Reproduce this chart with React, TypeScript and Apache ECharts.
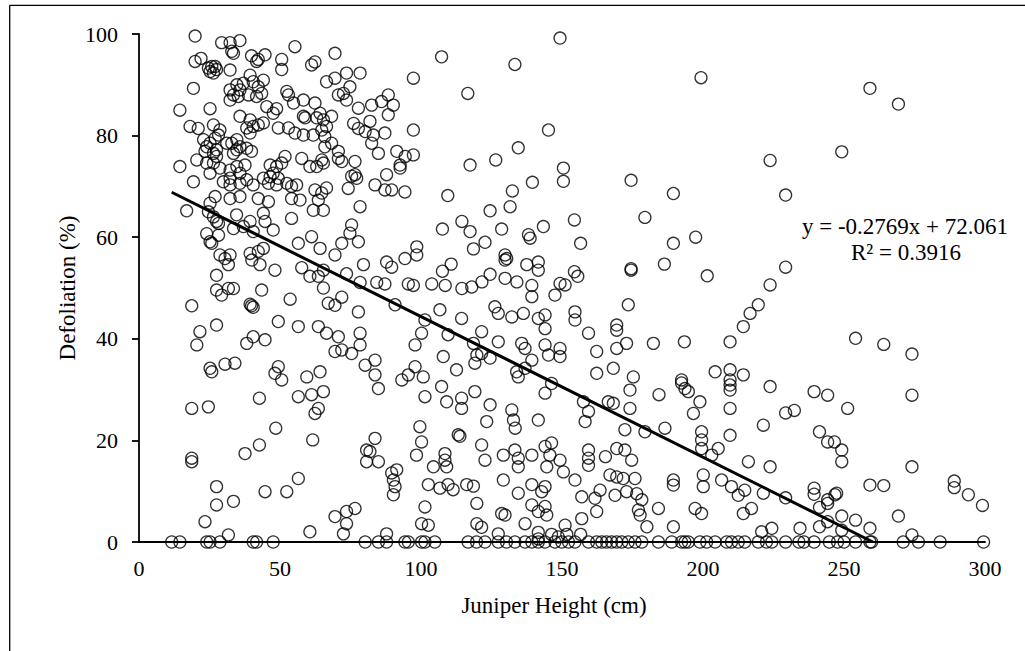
import React, { useEffect, useRef } from "react";
import * as echarts from "echarts";

// Juniper height (cm) vs defoliation (%), grouped by region
const pointsUpperLeft: number[][] = [
  [19.9,99.6],[29.3,98.3],[32.3,98.3],[35.8,98.7],[32.9,96.6],[33.5,96.2],
  [19.9,94.6],[22,95.2],[24.6,93.3],[25.8,93.6],[27,93.6],[27.5,93],[26.4,92.3],[25.2,92.6],
  [32.3,92.9],[39.9,95.7],[42.3,95],[44.7,95.9],[41.7,94.6],[50.6,95],[50.6,93],[55.3,97.5],
  [61.2,93.9],[62.4,94.5],[66.5,90.6],
  [39.4,91.9],[40.5,90.6],[44.1,90.9],[42.3,89.6],[43.5,88.3],[41.7,87.7],[38.8,88],[37,90.3],[35.8,89],
  [32.3,89],[34.7,90],[33.5,88],[35.2,87.7],[32.3,87],[19.3,89.3],[25.2,85.3],[14.5,85],
  [52.4,88.7],[53,88],[54.8,86.4],[58.3,87],[62.4,86.4],[48.8,85.3],[47.6,84.4],[45.3,85.7],
  [64.2,84.4],[65.4,83.1],[63,83.5],[58.9,83.5],[58.3,83.8],[66.5,81.8],
  [35.8,83.8],[39.4,83.1],[40.5,81.8],[42.3,82.1],[44.1,82.5],[38.2,81.5],[39.4,80.5],
  [18.1,81.8],[21,81.4],
  [26.4,82.1],[28.7,81.1],[28.2,80.1],[27,79.5],[25.2,78.5],[24,77.8],[27.5,77.2],[26.4,76.5],[23.4,76.9],[22.9,79.2],
  [49.4,81.5],[53,81.5],[55.3,80.5],[58.3,80.1],[61.8,80.1],[64.8,81.1],[65.9,79.8],[65.9,77.8],
  [31.1,78.5],[32.9,78.5],[34.7,79.2],[34.7,77.2],[35.8,77.8],[38.2,77.5],[39.9,76.9],[33.5,76.5],
  [20.5,75.2],[24,74.6],[26.4,74.6],[27.5,75.9],[28.7,73.6],[32.3,73.2],[34.7,73.9],[35.8,72.6],[37.6,74.2],
  [46.5,74.2],[48.8,73.9],[50.6,74.6],[51.8,75.9],[47.6,72.6],[49.4,71.6],
  [57.7,75.5],[60.6,73.9],[63,73.9],[65.4,74.6],[64.8,75.2],
  [14.5,73.9],[19.3,70.9],[25.2,72.6],[29.9,70.9],[32.3,71.6],[32.3,70.3],[35.8,70.6],[38.2,71.3],[40.5,70.3],
  [44.1,71.6],[45.9,70.6],[46.5,71.9],[48.8,70.3],[52.4,70.6],[54.1,70],[55.9,70.3],
  [62.4,69.3],[64.8,68.7],[66.5,69.7],
];

const pointsMidLeft: number[][] = [
  [16.9,65.2],[25.2,66.7],[27,68],[24.6,65],[26.4,64],[28.2,62.7],[27.5,63.1],[34.6,64.4],[33.5,61.7],
  [37,62.1],[39.4,63.1],[40.5,61.1],[44.1,64.7],[44.7,63.1],[45.9,67],[47.6,61.4],
  [32.3,67.6],[35.8,68],[42.3,67.6],[24,60.7],[25.2,59.1],[28.2,60.4],[25.8,58.8],
  [28.7,56.5],[30.5,55.8],[32.3,56.5],[31.7,54.6],[39.4,56.8],[40,55.5],[42.9,54.6],[42.3,57.2],[44.1,57.8],
  [48.2,53.5],[54.1,63.7],[56.5,58.8],[61.2,60.1],[64.2,57.8],[65.4,53.5],
  [57.7,54],[60.6,52.3],[63.6,52.3],[65.4,50],[61.8,65.3],[65.4,65.3],[63.6,67.3],[54.1,67.6],[57.1,67.3],
  [27.5,52.5],[27.5,49.6],[29.3,48.6],[31.7,49.9],[33.5,49.9],[18.7,46.5],
  [39.9,46.5],[40.5,46.2],[39.4,46.8],[43.5,49.6],[53.6,47.8],[67.1,47],
  [49.4,43.4],[56.5,42.4],[63.6,42.4],[66.5,41.1],[27.5,42.7],[21.6,41.4],[20.5,38.8],
  [38.2,39.1],[40.5,40.4],[44.7,39.8],
];

const pointsLowLeft: number[][] = [
  [25.2,34.2],[25.8,33.5],[30.5,35],[34,35.2],[48.2,33.2],[49.4,34.5],[50.6,31.9],
  [59.5,32.5],[64.2,33.5],[65.4,29.6],[61.2,29],[56.5,28.6],[63.6,26.3],[62.4,25.3],
  [42.7,28.3],[18.7,26.3],[24.6,26.6],[18.7,16.5],[18.7,15.8],
  [48.5,22.4],[42.7,19.1],[37.6,17.4],[61.6,20.1],
  [27.5,10.9],[27.5,7.3],[33.5,8],[23.4,4],[56.5,12.5],[52.4,9.9],[44.7,9.9],
  [31.7,1.4],[60.6,2],
  [11.6,0],[14.5,0],[24,0],[25.2,0],[28.7,0],[40.5,0],[41.7,0],[47.6,0],
];

const pointsUpperMid: number[][] = [
  [69.5,96.2],[107.3,95.5],[133.3,94],[97.3,91.3],[116.6,88.3],[145.2,81.1],
  [69.5,91.3],[73.6,92.3],[78.4,92.3],[74.8,89.6],[70.7,88],[72.5,88.3],[73.6,87],[77.8,85.4],[82.5,86],
  [86,86.7],[88.4,88],[90.2,86],[88.4,84.1],[97.3,81.1],[68.3,83.8],
  [76.1,82.4],[77.8,81.4],[80.2,80.8],[81.9,82.8],[83.1,80.1],[82.5,78.5],[84.9,76.5],[87.2,80.5],
  [68.3,78.5],[70.7,76.9],[70.7,75.5],[71.9,74.9],[76.6,74.9],
  [91.4,76.9],[94.4,75.9],[92.6,74.2],[92.6,73.6],[97.3,76.2],[87.8,72.3],
  [75.4,72],[77.2,71.6],[76.6,72.3],[74.2,69.6],[83.7,70.3],[87.2,69.3],[89.6,69.3],[94.3,68.9],
  [78.4,66],[75.4,62.4],[74.8,60.8],[77.8,59.1],[71.9,58.8],[69.5,56.5],
  [79.6,54.6],[87.8,55.1],[89.6,54.1],[94.3,55.8],[98.5,58.1],[98.5,56.5],
  [73.6,52.8],[78.4,51.1],[84.3,51.1],[87.2,50.8],[95.5,50.8],[97.3,50.5],[103.8,50.8],[108.6,50.5],
  [109.5,68.2],[107.6,61.6],[114.5,63.1],[117.4,61.1],[118.6,57.7],[122.7,59],
  [124.5,65.2],[128.6,61.6],[131.6,66],[132.4,69.1],[139.5,70.8],[117.4,74.2],[126.5,75.2],[134.5,77.6],
  [138.1,60.5],[138.7,59.8],[143.4,62.1],[129.8,56.5],[129.8,55.5],[130.4,55.8],[137.5,54.6],[141.6,55.1],[141.6,53.5],
  [107.6,53.3],[110.7,54.7],[124.5,52.7],[121.6,51.2],[118,50.2],[114.5,49.9],[129.8,51.9],[134,51.2],[139.3,50.5],
];

const pointsLowMid: number[][] = [
  [69.5,46.6],[71.9,48.2],[77.8,45.3],
  [70.7,40.4],[78.4,41.1],[78.4,38.8],[69.5,37.5],[71.9,37.8],[75.4,37.1],[80.2,34.8],[83.7,35.8],[83.7,32.9],[84.9,30.2],
  [90.8,46.7],[101.4,43.7],[106.7,45.7],[114.4,44],[109.6,40.8],[107.9,36.5],[112.6,33.9],[101.4,28.6],
  [107.3,30.6],[109.1,27.6],[114.4,28.3],[114.4,26.3],[119.1,29.6],
  [100.2,41.1],[97.9,38.8],[93.2,31.9],[95.5,32.9],[97.9,34.5],[100.8,32.5],
  [121.5,41.4],[118.6,39.1],[119.8,36.8],[119.1,35.2],[121.5,37.1],[124.5,36.2],[127.4,39.4],[135.7,39.1],
  [136.9,38.1],[139.3,35.8],[136.9,34.2],[134.5,32.5],[133.9,33.5],[144,38.8],[145.2,36.8],[144,29.3],[141.6,44],[144,44.7],
  [126.2,46.3],[127.4,45],[132.2,44.3],[136.3,45],[139.3,48.3],
  [124.5,27],[123.3,23.7],[132.2,26],[132.8,24],[133.4,22.4],[141.6,24],
  [99.6,22.7],[100.2,19.7],[98.4,17.1],[113.2,21.1],[113.8,20.8],[121.5,19.1],[122.7,16.1],[108.5,17.4],
  [108.5,16.1],[109.1,14.8],[104.4,14.8],
  [83.7,20.4],[80.7,18.1],[81.9,17.8],[80.7,15.8],[84.9,15.8],
  [89.6,13.6],[91.4,14.2],[90.2,12.2],[90.8,10.9],[90.2,9.3],
  [102.6,11.3],[106.7,10.6],[109.6,11.3],[111.4,10.3],[116.2,11.3],[118.6,11],[119.8,7.6],
  [129.2,17.1],[133.3,18.1],[134.5,16.5],[134.5,14.8],[139.3,17.1],[144,18.8],[144.6,14.8],[129.2,12.2],
  [134.5,9.6],[139.3,11.3],[142.8,9.9],[144,10.9],[139.3,7.3],[141.6,6],[144.6,5.3],
  [101.4,6.9],[100.2,3.6],[102.6,3.3],
  [69.5,5],[73.6,6],[76.6,6.6],[73.6,3.6],[72.5,1.6],
  [119.8,3.6],[121.5,2.9],[128.6,5.6],[129.8,5.3],[127.4,1.6],[136.9,3.6],[141.6,1.9],[141.6,0.6],[87.8,1.6],
  [80.2,0],[84.9,0],[87.8,0],[94.3,0],[95.5,0],[100.2,0],[101.4,0],[104.9,0],[116.7,0],[119.7,0],
  [122.7,0],[127.4,0],[130.3,0],[133.3,0],[136.9,0],[139.3,0],[141.6,0],[144,0],
];

const pointsUpperRight: number[][] = [
  [149.3,99.2],[199.3,91.4],[150.5,73.6],[150.5,71],[174.5,71.2],[189.5,68.6],[154.4,63.4],[156.6,58.8],
  [179.4,63.9],[189.5,58.8],[197.4,60],[186.3,54.7],[174.5,53.5],[174.5,53.8],[154.4,53.2],[155.6,52.3],
  [201.5,52.4],[149.3,50.9],[151.1,50.6],[223.8,75.1],[223.8,50.6],
];

const pointsLowRight: number[][] = [
  [147.5,48.6],[144,42],[149.3,38.1],[149.3,36.5],[154.6,45.3],[154.6,43.7],[159.4,41.1],[162.3,37.5],
  [162.3,33.2],[168.2,34.2],[169.4,38.1],[169.4,42.7],[169.4,41.7],[172.9,39.1],[173.5,46.7],[175.3,32.5],
  [174.1,29.9],[174.1,26.3],[168.2,27.3],[166.4,27.6],[146.3,31.2],[157.6,27.6],[159.4,25.7],[158.2,23.7],
  [182.4,39.1],[193.4,39.4],[184.4,29],[192.4,31.9],[192.4,31.3],[193.6,30.2],[194.8,29.6],[198.9,27.6],
  [196.6,25.3],[186.5,22.4],[179.4,21.7],[172.3,22.1],
  [204.3,33.5],[209.6,39.4],[209.6,33.9],[209.6,31.9],[209.6,30.9],[209.6,29.9],[209.6,26.3],[209.6,21],
  [214.3,32.9],[214.3,42.4],[216.7,45],[219.6,46.7],[221.4,23],[223.8,30.6],
  [199.5,21.7],[199.5,20.1],[199.5,18.4],[203.1,17.1],[205.4,18.4],[216.1,15.8],[223.8,14.8],
  [146.3,19.5],[145.7,17.1],[149.3,16.1],[150.5,13.8],[154.6,12.2],[159.4,18.1],[159.4,16.5],[159.4,15.1],
  [165.4,16.8],[169.4,18.4],[172.3,18.1],[174.7,16.1],[167,13.2],[169.4,12.8],[171.7,12.5],[175.9,12.5],
  [168.8,9.2],[172.9,9.9],[176.5,9.5],[178.3,8.3],[177.1,6.3],[177.7,5.3],[163.5,10.2],[161.7,8.6],
  [162.3,6],[157,8.9],[157,4.6],[151.1,3.3],[144,7],
  [184.2,6.6],[189.5,11.2],[189.5,12.2],[200.1,13.2],[200.1,10.9],[197.2,6.6],[199.5,5.6],[206.6,12.2],
  [210.1,10.9],[212.5,9.2],[214.8,10.2],[214.3,5.6],[217.2,6.6],[221.4,9.6],[189.5,3],[180.1,3],[220.8,2],
  [146.3,1.5],[148.7,1],[151.7,1.5],[156.6,1.5],
  [147.5,0],[149.9,0],[152.3,0],[154.6,0],[159.4,0],[162.3,0],[164.1,0],[165.8,0],[167.6,0],[169.4,0],
  [171.2,0],[173.5,0],[175.9,0],[178.3,0],[184.2,0],[188.9,0],[192.4,0],[193.6,0],[194.8,0],[198.9,0],
  [201.3,0],[204.3,0],[208.4,0],[210.1,0],[212.5,0],[214.8,0],[219.6,0],[222.5,0],
];

const pointsFarRight: number[][] = [
  [259.2,89.3],[269.3,86.2],[249.2,76.8],[229.3,68.3],[229.3,54.1],
  [254.1,40.1],[264.1,38.9],[274.1,37],[239.4,29.6],[244.2,28.9],[274.1,28.9],
  [229.3,25.4],[232.4,25.9],[251.3,26.3],
  [241.3,21.7],[244.2,19.7],[246.6,19.7],[249.2,18.1],[249.2,15.8],[274.1,14.8],
  [229.3,8.7],[239.4,10.6],[239.4,9.4],[241.3,6.8],[244.2,7.6],[244.2,8.3],[246.8,9.3],[247.4,9.6],
  [259.2,11.2],[264.1,11.1],[289.1,12],[289.1,10.7],[294.1,9.3],[299.1,7.2],[269.3,5.1],
  [249.2,5.1],[254.1,4.3],[259.2,2.7],[241.3,3],[244.2,4],[234.4,2.7],[224.4,2.7],[249.2,2.3],[274.1,1.4],
  [224.4,0],[229.3,0],[234,0],[235.8,0],[239.4,0],[244.8,0],[247.7,0],[250,0],[254.1,0],[259.2,0],
  [259.8,0],[271,0],[276.4,0],[284.1,0],[299.5,0],
];

const trendSlope = -0.2769;
const trendIntercept = 72.061;
const trendR2 = 0.3916;
const xTicks = { min: 0, max: 300, interval: 50 };
const yTicks = { min: 0, max: 100, interval: 20 };

const allPoints = [
  ...pointsUpperLeft, ...pointsMidLeft, ...pointsLowLeft, ...pointsUpperMid,
  ...pointsLowMid, ...pointsUpperRight, ...pointsLowRight, ...pointsFarRight,
];

const FONT = '"Liberation Serif", "Times New Roman", serif';

export default function App() {
  const ref = useRef<HTMLDivElement>(null);
  useEffect(() => {
    if (!ref.current) return;
    const chart = echarts.init(ref.current, null, { renderer: "svg" });
    const xMin = Math.min(...allPoints.map((p) => p[0]));
    const xZero = -trendIntercept / trendSlope;
    const trend = [
      [xMin, trendSlope * xMin + trendIntercept],
      [xZero, 0],
    ];
    const textStyle = (text: string) => ({
      text,
      font: `23px ${FONT}`,
      fill: "#000",
      textAlign: "center",
      textVerticalAlign: "middle",
    });
    chart.setOption({
      animation: false,
      backgroundColor: "#fff",
      grid: { left: 139, top: 34, width: 846, height: 508, containLabel: false },
      xAxis: {
        type: "value",
        min: xTicks.min,
        max: xTicks.max,
        interval: xTicks.interval,
        axisLine: { show: true, onZero: false, lineStyle: { color: "#000", width: 1.8 } },
        axisTick: { show: false },
        splitLine: { show: false },
        axisLabel: { color: "#000", fontFamily: FONT, fontSize: 22, margin: 15 },
      },
      yAxis: {
        type: "value",
        min: yTicks.min,
        max: yTicks.max,
        interval: yTicks.interval,
        axisLine: { show: true, lineStyle: { color: "#000", width: 1.8 } },
        axisTick: { show: true, inside: false, length: 7, lineStyle: { color: "#000", width: 1.8 } },
        splitLine: { show: false },
        axisLabel: { color: "#000", fontFamily: FONT, fontSize: 22, margin: 21 },
      },
      series: [
        {
          type: "scatter",
          data: allPoints,
          symbol: "circle",
          symbolSize: 12,
          clip: false,
          itemStyle: { color: "rgba(0,0,0,0)", borderColor: "#000", borderWidth: 1.3 },
          emphasis: { disabled: true },
          z: 2,
        },
        {
          type: "line",
          data: trend,
          symbol: "none",
          lineStyle: { color: "#000", width: 3 },
          z: 3,
        },
      ],
      graphic: [
        {
          type: "line",
          shape: { x1: 9.7, y1: 5.3, x2: 9.7, y2: 660 },
          style: { stroke: "#000", lineWidth: 1.3 },
          silent: true,
        },
        {
          type: "line",
          shape: { x1: 9.7, y1: 5.3, x2: 1030, y2: 5.3 },
          style: { stroke: "#000", lineWidth: 1.3 },
          silent: true,
        },
        { type: "text", x: 554, y: 605, style: textStyle("Juniper Height (cm)") },
        { type: "text", x: 67, y: 288, rotation: Math.PI / 2, style: textStyle("Defoliation (%)") },
        { type: "text", x: 905, y: 226, style: textStyle(`y = ${trendSlope}x + ${trendIntercept}`) },
        { type: "text", x: 906, y: 252, style: textStyle(`R² = ${trendR2}`) },
      ],
    });
    return () => chart.dispose();
  }, []);
  return (
    <div
      ref={ref}
      style={{ position: "fixed", left: 0, top: 0, width: 1025, height: 651, background: "#fff" }}
    />
  );
}
